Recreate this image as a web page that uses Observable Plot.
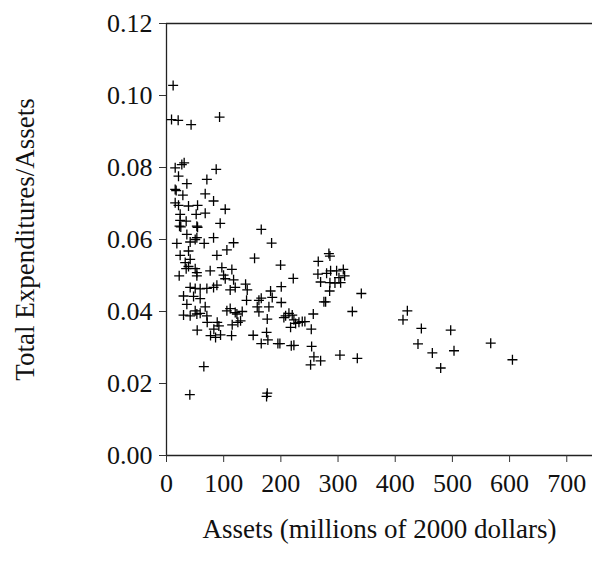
<!DOCTYPE html>
<html>
<head>
<meta charset="utf-8">
<script src="https://cdn.jsdelivr.net/npm/d3@7"></script>
<script src="https://cdn.jsdelivr.net/npm/@observablehq/plot@0.6"></script>
<style>
  html, body { margin: 0; padding: 0; background: white; }
</style>
</head>
<body>
<div id="chart"></div>
<script>
const assets = [
  11.6, 8.8, 20.4, 43, 92.8,
  15.2, 26.8, 30.9, 86.9, 21, 35.6, 70.6, 15.2, 16.9, 28.6, 67.7, 82.3, 15.2, 21, 38.5, 54.3, 102.7, 23.9, 51.9, 67.7, 23.9, 34.4, 93.9, 22.8, 25, 53.1, 54.3,
  35.6, 53.1, 50.2, 82.3, 18.1, 41.4, 65.9, 117.3, 105.6, 88.1, 23.9, 38.5, 41.4, 32.7, 38.5, 34.4, 50.2, 53.1, 76.4, 96.8, 114.3, 99.8, 22.2, 53.1, 102.7, 117.3, 41.4, 50.2, 58.9, 70.6, 82.3, 88.1, 111.4, 120.2, 29.8, 47.3, 58.9, 35.6, 67.7, 50.2, 111.4, 105.6, 58.9, 29.8, 41.4, 53.1, 70.6, 120.2, 123.1,
  53.7, 71.2, 88.7, 91.6, 77, 94.5, 82.8, 85.8, 65.3, 40.8, 114.9, 124.8, 113.8, 176.2, 175,
  165.7, 183.8, 154, 199.5, 221.7, 284, 285.8, 265.4, 264.8, 280, 287, 297.5, 309.2, 301.6, 311.5, 269.5, 285.8, 294.6, 304.5, 285.3, 340.7,
  138.3, 141.2, 182, 184.9, 165.7, 161.6, 140, 158.7, 179.1, 161.6, 132.4, 129.5, 176.2, 200.7, 200.7,
  208.3, 214.1, 219.9, 205.3, 222.8, 217, 225.8, 231.6, 237.4, 242, 253.2, 256.7,
  275.3, 278.3, 325,
  151.6, 175, 165.7, 177.3, 194.8, 198.3, 218.2, 222.8, 253.8,
  257.8, 303.3, 333.7, 269.5, 252,
  421.2, 413.6, 445.7, 497, 439.8, 464.9, 502.8, 479.5, 567, 605
];
const ratio = [
  0.1028, 0.0933, 0.0931, 0.0919, 0.0940,
  0.0799, 0.0808, 0.0813, 0.0795, 0.0776, 0.0755, 0.0767, 0.0739, 0.0736, 0.0723, 0.0727, 0.0707, 0.0702, 0.0695, 0.0693, 0.0695, 0.0684, 0.0670, 0.0670, 0.0673, 0.0653, 0.0651, 0.0645, 0.0637, 0.0635, 0.0637, 0.0634,
  0.0614, 0.0605, 0.0600, 0.0605, 0.0589, 0.0593, 0.0589, 0.0591, 0.0571, 0.0556, 0.0556, 0.0568, 0.0545, 0.0536, 0.0525, 0.0519, 0.0519, 0.0508, 0.0513, 0.0522, 0.0517, 0.0501, 0.0499, 0.0499, 0.0491, 0.0488, 0.0467, 0.0464, 0.0463, 0.0464, 0.0467, 0.0473, 0.0460, 0.0467, 0.0443, 0.0442, 0.0436, 0.0420, 0.0413, 0.0402, 0.0408, 0.0402, 0.0395, 0.0390, 0.0388, 0.0393, 0.0388, 0.0397, 0.0393,
  0.0348, 0.0370, 0.0370, 0.0360, 0.0333, 0.0335, 0.0351, 0.0328, 0.0247, 0.0169, 0.0363, 0.0370, 0.0333, 0.0173, 0.0164,
  0.0628, 0.0590, 0.0548, 0.0529, 0.0492, 0.0561, 0.0554, 0.0539, 0.0504, 0.0506, 0.0513, 0.0513, 0.0517, 0.0494, 0.0499, 0.0482, 0.0480, 0.0479, 0.0480, 0.0457, 0.0450,
  0.0476, 0.0460, 0.0457, 0.0439, 0.0437, 0.0431, 0.0431, 0.0413, 0.0413, 0.0399, 0.0400, 0.0374, 0.0379, 0.0469, 0.0425,
  0.0388, 0.0395, 0.0390, 0.0383, 0.0377, 0.0356, 0.0367, 0.0370, 0.0372, 0.0372, 0.0351, 0.0393,
  0.0427, 0.0427, 0.0400,
  0.0334, 0.0342, 0.0311, 0.0321, 0.0311, 0.0311, 0.0305, 0.0306, 0.0303,
  0.0274, 0.0279, 0.0270, 0.0263, 0.0252,
  0.0402, 0.0377, 0.0353, 0.0348, 0.0310, 0.0285, 0.0291, 0.0243, 0.0312, 0.0266
];
const xTicks = [0, 100, 200, 300, 400, 500, 600, 700];
const yTicks = [0, 0.02, 0.04, 0.06, 0.08, 0.10, 0.12];
const xTitle = "Assets (millions of 2000 dollars)";
const yTitle = "Total Expenditures/Assets";

const points = assets.map((a, i) => ({a, r: ratio[i]}));

const plusSymbol = {
  draw(ctx, size) {
    const s = Math.sqrt(size / Math.PI);
    ctx.moveTo(-s, 0); ctx.lineTo(s, 0);
    ctx.moveTo(0, -s); ctx.lineTo(0, s);
  }
};

const chart = Plot.plot({
  width: 592,
  height: 571,
  marginLeft: 166,
  marginRight: 0,
  marginTop: 23,
  marginBottom: 116,
  style: {fontFamily: "'Liberation Serif', 'Times New Roman', serif", fontSize: "26px", background: "white", color: "#111"},
  x: {domain: [0, 745]},
  y: {domain: [0, 0.12]},
  marks: [
    Plot.ruleY([0.12], {stroke: "#222", strokeWidth: 1.3}),
    Plot.ruleY([0], {stroke: "#222", strokeWidth: 1.3}),
    Plot.ruleX([0], {stroke: "#222", strokeWidth: 1.3}),
    Plot.axisX({ticks: xTicks, tickSize: 7, tickPadding: 11, label: null, stroke: "#333", fill: "#111", fontSize: 26}),
    Plot.axisY({ticks: yTicks, tickSize: 7, tickPadding: 7, label: null, tickFormat: d3.format(".2f"), stroke: "#333", fill: "#111", fontSize: 26}),
    Plot.dot(points, {x: "a", y: "r", r: 5, symbol: plusSymbol, stroke: "#000", fill: "none", strokeWidth: 1.3}),
    Plot.text([xTitle], {frameAnchor: "bottom", dy: 82, fontSize: 27, fill: "#111", textAnchor: "middle"}),
    Plot.text([yTitle], {frameAnchor: "left", dx: -141, rotate: -90, fontSize: 27, fill: "#111", textAnchor: "middle"})
  ]
});
document.getElementById("chart").appendChild(chart);
</script>
</body>
</html>
